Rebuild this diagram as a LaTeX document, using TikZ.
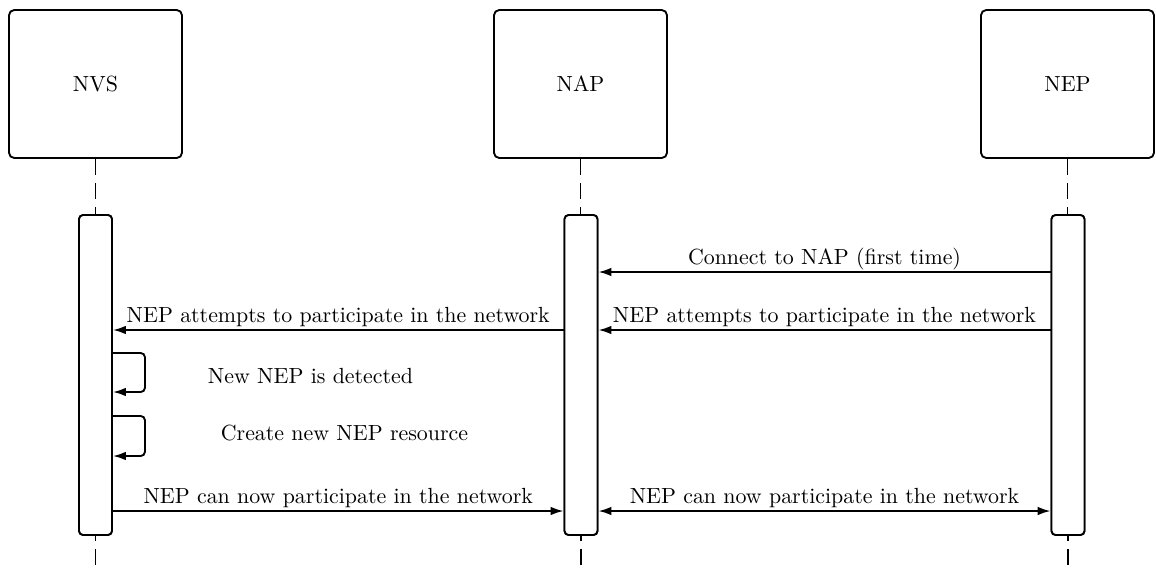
\documentclass[tikz,border=0pt]{standalone}
\usetikzlibrary{arrows.meta}
\def\pxu{0.4566pt}
\begin{document}
\begin{tikzpicture}[x=0.4566pt, y=-0.4566pt,
  line width=0.85pt,
  actor/.style={draw, rounded corners=2.4pt, minimum width=173*\pxu, minimum height=148*\pxu, inner sep=0pt},
  activation/.style={draw, fill=white, rounded corners=1.9pt, minimum width=33*\pxu, minimum height=320*\pxu, inner sep=0pt},
  lifeline/.style={dash pattern=on 16*\pxu off 8*\pxu},
  msg/.style={-{Latex[length=5.9pt,width=3.9pt]}},
  bimsg/.style={{Latex[length=5.9pt,width=3.9pt]}-{Latex[length=5.9pt,width=3.9pt]}},
  msglabel/.style={anchor=base, yshift=8*\pxu, inner sep=0pt},
  notelabel/.style={anchor=base, inner sep=0pt}]
\useasboundingbox (0,0) rectangle (1156,567);

% participants
\node[actor] (nvs) at (95.5,84) {NVS};
\node[actor] (nap) at (580.5,84) {NAP};
\node[actor] (nep) at (1067.5,84) {NEP};

% message heights and page bottom
\coordinate (bottom) at (0,567);
\coordinate (m1) at (0,272);
\coordinate (m2) at (0,330);
\coordinate (s1) at (0,353);
\coordinate (s1b) at (0,392);
\coordinate (s2) at (0,416);
\coordinate (s2b) at (0,456);
\coordinate (m3) at (0,511);

% lifelines
\coordinate (nvsbarpos) at (95.5,375);
\coordinate (napbarpos) at (581,375);
\coordinate (nepbarpos) at (1068,375);
\node[activation] (nvsbar) at (nvsbarpos) {};
\node[activation] (napbar) at (napbarpos) {};
\node[activation] (nepbar) at (nepbarpos) {};

\draw[lifeline] (nvs.south) -- (nvsbar.north);
\draw[lifeline] (nap.south) -- (nap.south |- napbar.north);
\draw[lifeline] (nep.south) -- (nep.south |- nepbar.north);
\draw[lifeline, dash phase=11*\pxu] (nvsbar.south) -- (nvsbar.south |- bottom);
\draw[lifeline, dash phase=11*\pxu] (napbar.south) -- (napbar.south |- bottom);
\draw[lifeline, dash phase=11*\pxu] (nepbar.south) -- (nepbar.south |- bottom);

% activation bars on top of the lifelines
\node[activation] at (nvsbarpos) {};
\node[activation] at (napbarpos) {};
\node[activation] at (nepbarpos) {};

% messages
\draw[msg] (nepbar.west |- m1) -- node[msglabel] {Connect to NAP (first time)} (napbar.east |- m1);
\draw[msg] (nepbar.west |- m2) -- node[msglabel] {NEP attempts to participate in the network} (napbar.east |- m2);
\draw[msg] (napbar.west |- m2) -- node[msglabel] {NEP attempts to participate in the network} (nvsbar.east |- m2);

% self calls
\draw[msg, rounded corners=1.9pt] (nvsbar.east |- s1) -- ++(32,0) |- (nvsbar.east |- s1b);
\node[notelabel] (detected) at (310.5,383) {New NEP is detected};
\draw[msg, rounded corners=1.9pt] (nvsbar.east |- s2) -- ++(32,0) |- (nvsbar.east |- s2b);
\node[notelabel] (create) at (344.5,440) {Create new NEP resource};

% replies
\draw[msg] (nvsbar.east |- m3) -- node[msglabel] {NEP can now participate in the network} (napbar.west |- m3);
\draw[bimsg] (napbar.east |- m3) -- node[msglabel] {NEP can now participate in the network} (nepbar.west |- m3);
\end{tikzpicture}
\end{document}
